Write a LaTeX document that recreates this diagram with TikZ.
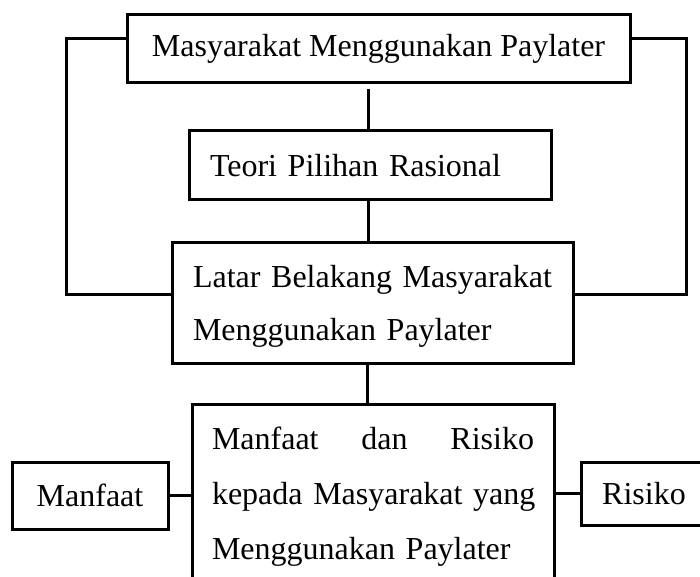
\documentclass[tikz,border=0pt]{standalone}
\usepackage{fontspec}
\setmainfont{Liberation Serif}
\usetikzlibrary{positioning,calc}
\tikzstyle{kbox}=[rectangle, draw=black, line width=3pt, outer sep=0pt, inner sep=0pt, text centered, font=\fontsize{32}{53}\selectfont]
\tikzstyle{tbox}=[kbox, align=left, inner xsep=21pt]
\tikzstyle{line}=[-, line width=3pt]

\begin{document}
\begin{tikzpicture}[x=1pt, y=-1pt, node distance=0pt]

    \useasboundingbox (0,0) rectangle (700,577);
    \clip (0,0) rectangle (700,577);

    \node (mpl) [kbox, minimum width=503pt, minimum height=68pt] at (378.5,49) {Masyarakat Menggunakan Paylater};
    \node (teori) [tbox, below=48pt of mpl, xshift=-8.5pt, text width=320pt, minimum height=69pt] {Teori Pilihan Rasional};
    \node (latar) [tbox, below=42pt of teori, xshift=2.5pt, text width=359pt, minimum height=121pt, text height=30pt] {Latar Belakang Masyarakat\\ Menggunakan Paylater};

% Manfaat dan Risiko
    \node (manres) [tbox, below=41pt of latar, xshift=0.5pt, text width=322pt, inner xsep=20pt, inner ysep=23pt, font=\fontsize{32}{55}\selectfont]
        {\makebox[\linewidth][s]{Manfaat \hfill dan \hfill Risiko}\\
         \makebox[\linewidth][s]{kepada Masyarakat yang}\\
         Menggunakan Paylater};
    \node (manfaat) [kbox, minimum width=156pt, minimum height=67pt] at (90,495.5) {Manfaat};
    \node (risiko) [kbox, minimum width=126pt, minimum height=63pt] at (644,493.5) {Risiko};

    \coordinate (ltop) at (66,39);
    \coordinate (lbot) at (66,294);
    \coordinate (rtop) at (686,39);
    \coordinate (rbot) at (686,294);

    \draw[line] ([yshift=10pt]mpl.west) -- (ltop) -- (lbot) -- (latar.west |- lbot);
    \draw[line] ([yshift=10pt]mpl.east) -- (rtop) -- (rbot) -- (latar.east |- rbot);

    \draw[line, shorten >=6pt] ([xshift=-2pt]teori.north) -- ([xshift=-2pt]teori.north |- mpl.south);
    \draw[line] ([xshift=-2pt]teori.south) -- ([xshift=-2pt]teori.south |- latar.north);
    \draw[line] ([xshift=-5pt]latar.south) -- ([xshift=-5pt]latar.south |- manres.north);
    \draw[line] (manfaat.east) -- (manfaat.east -| manres.west);
    \draw[line] (risiko.west) -- (risiko.west -| manres.east);

\end{tikzpicture}
\end{document}
